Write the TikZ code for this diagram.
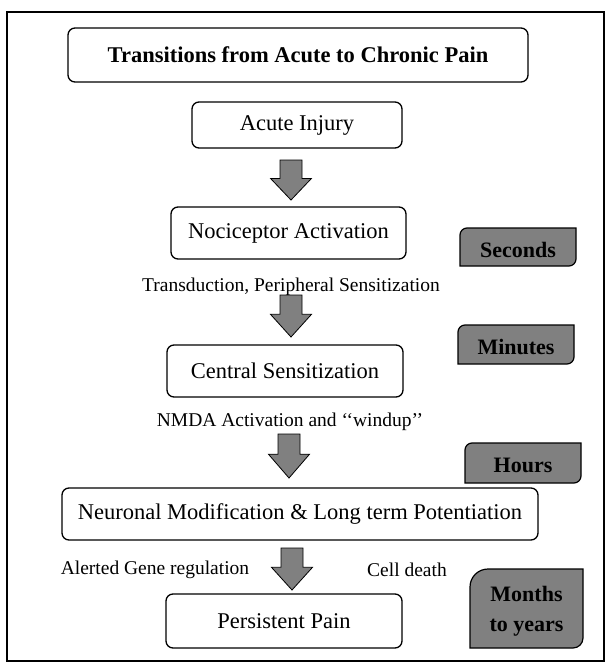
\documentclass[tikz,border=0pt]{standalone}
\usepackage{fontspec}
\setmainfont{Liberation Serif}
\definecolor{tgray}{RGB}{128,128,128}
\definecolor{agray}{RGB}{128,128,128}
\begin{document}
\begin{tikzpicture}[x=1pt,y=-1pt,
  box/.style={draw=black,line width=1.3pt,rounded corners=7pt,fill=white,inner sep=0pt,font=\fontsize{22.5}{26}\selectfont},
  lbl/.style={inner sep=0pt,font=\fontsize{19.5}{23}\selectfont},
  timebox/.style={draw=black,line width=1.2pt,fill=tgray},
  timetext/.style={inner sep=0pt,align=center,font=\bfseries\fontsize{22}{28}\selectfont},
  blockarrow/.style={draw=black,line width=0.8pt,fill=agray}]
\useasboundingbox (0,0) rectangle (611,664);
\draw[line width=1.3pt] (7,12) rectangle (604,661);
% main boxes
\node[box,minimum width=460,minimum height=54,font=\bfseries\fontsize{22.5}{26}\selectfont] (title) at (298,55) {Transitions from Acute to Chronic Pain};
\node[box,minimum width=210,minimum height=46] (inj) at (297,125) {Acute Injury};
\node[box,minimum width=235,minimum height=52] (noc) at (288.5,233) {Nociceptor Activation};
\node[box,minimum width=236,minimum height=52] (cen) at (285,371) {Central Sensitization};
\node[box,minimum width=476,minimum height=52] (neu) at (300,514) {Neuronal Modification \& Long term Potentiation};
\node[box,minimum width=236,minimum height=54] (per) at (284,621) {Persistent Pain};
% labels
\node[lbl] (l1) at (291,286.5) {Transduction, Peripheral Sensitization};
\node[lbl] (l2) at (290,422) {NMDA Activation and \textquoteleft\textquoteleft windup\textquoteright\textquoteright};
\node[lbl] (l3) at (155,570) {Alerted Gene regulation};
\node[lbl] (l4) at (407,570) {Cell death};
% time boxes
\newcommand{\tbox}[6]{%
  \draw[timebox] (#1,#2+7) arc[start angle=180,end angle=270,radius=7] -- (#3,#2) -- (#3,#4-7) arc[start angle=0,end angle=90,radius=7] -- (#1,#4) -- cycle;
  \node[timetext] (#6) at ({(#1+#3)/2},{(#2+#4)/2+2.5}) {#5};}
\tbox{460}{228}{576}{266}{Seconds}{sec}
\tbox{458}{325}{574}{364}{Minutes}{min}
\tbox{465}{443}{581}{483}{Hours}{hrs}
\draw[timebox] (470,569+18) arc[start angle=180,end angle=270,radius=18] -- (583,569) -- (583,648-10) arc[start angle=0,end angle=90,radius=10] -- (470,648) -- cycle;
\node[timetext,font=\bfseries\fontsize{22}{30}\selectfont] (mon) at (526.5,611) {Months\\to years};
% block arrows
\newcommand{\barrow}[3]{%
  \draw[blockarrow] (#1-11,#2) -- (#1+11,#2) -- (#1+11,{#2+0.46*(#3-#2)}) -- (#1+20.5,{#2+0.46*(#3-#2)}) -- (#1,#3) -- (#1-20.5,{#2+0.46*(#3-#2)}) -- (#1-11,{#2+0.46*(#3-#2)}) -- cycle;}
\barrow{291}{160}{200}
\barrow{291}{295}{337}
\barrow{289}{434}{478}
\barrow{292}{548}{590}
\end{tikzpicture}
\end{document}
